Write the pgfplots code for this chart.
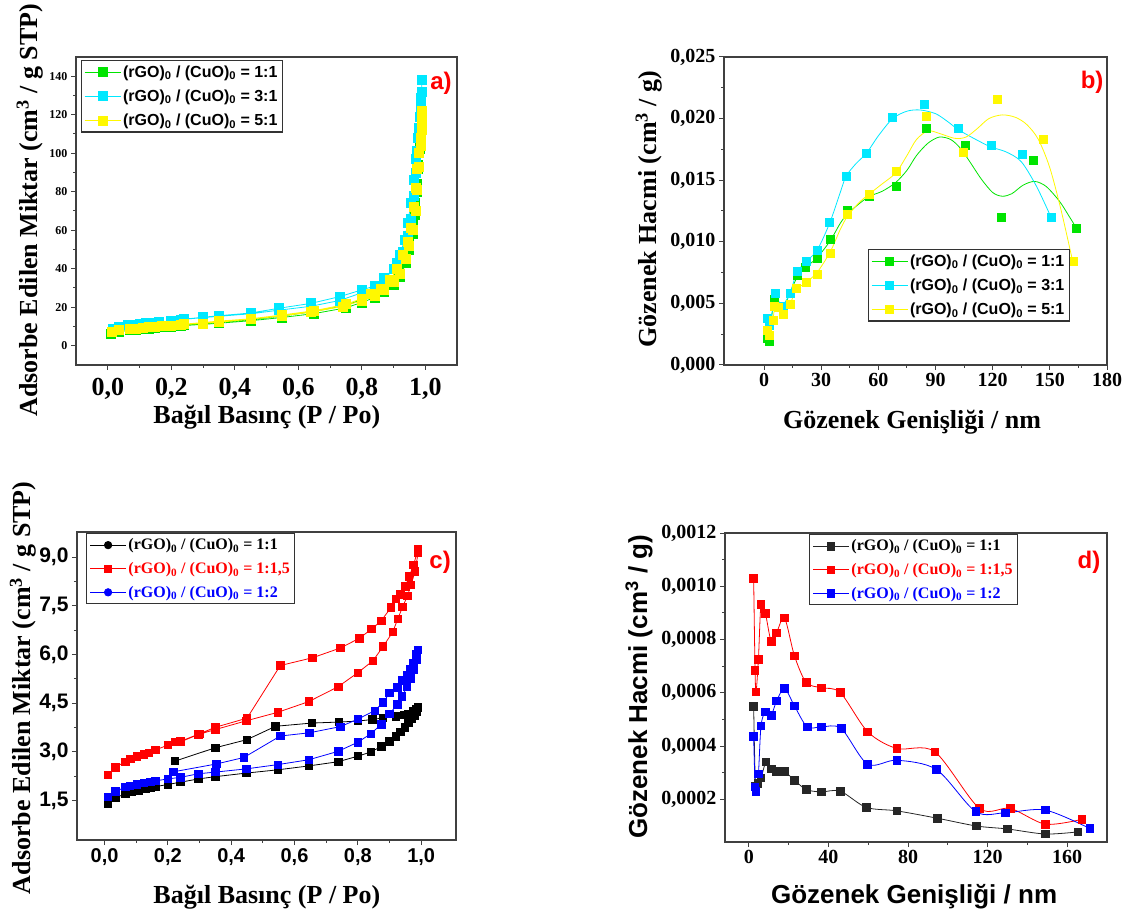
\documentclass[border=0pt]{standalone}
\usepackage{fontspec}
\setmainfont{Liberation Serif}
\newfontfamily\arial{Liberation Sans}
\usepackage{pgfplots}
\pgfplotsset{compat=1.18}
\definecolor{cgreen}{RGB}{0,228,0}
\definecolor{ccyan}{RGB}{0,232,255}
\definecolor{cyellow}{RGB}{255,248,0}
\definecolor{cred}{RGB}{255,0,0}
\definecolor{cblue}{RGB}{0,0,255}
\newcommand{\ent}[1]{(rGO)\textsubscript{0} / (CuO)\textsubscript{0} = #1}
\tikzset{
  serlab/.style={font=\fontsize{26}{30}\selectfont\bfseries},
  sanlab/.style={font=\fontsize{26}{30}\selectfont\arial\bfseries},
}
\pgfplotsset{
  panel/.style={
    scale only axis, anchor=south west,
    axis line style={black!75, line width=1.3pt},
    tick align=outside, xtick pos=left, ytick pos=left,
    major tick length=5pt, minor tick length=3pt,
    every tick/.style={black!75, line width=1pt},
    minor tick num=1,
    scaled ticks=false,
    /pgf/number format/assume math mode=true,
    legend cell align=left,
    legend image code/.code={\draw[mark repeat=2,mark phase=2,##1,sharp plot,line width=0.8pt] plot coordinates {(0pt,0pt) (18pt,0pt) (36pt,0pt)};},
  },
}
\begin{document}
\begin{tikzpicture}
\useasboundingbox (0pt,0pt) rectangle (1126pt,916pt);
% ---------------- a ----------------
\begin{axis}[panel, at={(76pt,551pt)}, width=381pt, height=308pt,
  xmin=-0.1, xmax=1.1, ymin=-10, ymax=150,
  xtick={0,0.2,0.4,0.6,0.8,1.0}, xticklabels={{0,0},{0,2},{0,4},{0,6},{0,8},{1,0}},
  ytick={0,20,40,60,80,100,120,140},
  x tick label style={font=\fontsize{26}{28}\selectfont\bfseries, yshift=-5pt},
  y tick label style={font=\fontsize{12}{14}\selectfont\bfseries},
  xlabel={Bağıl Basınç (P / Po)}, ylabel={Adsorbe Edilen Miktar (cm\textsuperscript{3} / g STP)},
  xlabel style={serlab, at={(axis description cs:0.501,-0.169)}, anchor=center},
  ylabel style={serlab, at={(axis description cs:-0.121,0.503)}, anchor=center},
  legend style={at={(0.0123,0.99)}, anchor=north west, draw=black!80, line width=1.2pt,
    font=\fontsize{16}{18}\selectfont\arial\bfseries, inner sep=3pt, row sep=7pt},
  mark size=4.5pt]
\addplot[cgreen, line width=0.8pt, mark=square*] coordinates {
(0.01,6.3) (0.035,7.3) (0.07,8.1) (0.09,8.4) (0.11,8.7) (0.13,9.0) (0.15,9.3) (0.17,9.6) (0.2,10.0) (0.23,10.4) (0.3,11.1) (0.35,11.7) (0.45,13.0) (0.55,14.7) (0.65,16.7) (0.75,19.7) (0.8,22.5) (0.84,25) (0.87,28) (0.9,31.5) (0.92,36) (0.94,43) (0.95,50) (0.96,58) (0.967,68) (0.973,80) (0.978,92) (0.983,103) (0.987,112) (0.99,121)
(0.988,117) (0.985,110) (0.982,102) (0.978,94) (0.974,84) (0.968,74) (0.96,63) (0.95,55) (0.935,47) (0.915,40) (0.89,34) (0.86,29.5) (0.83,27) (0.8,24) (0.75,21) (0.65,17.8) (0.55,15.5) (0.45,13.6) (0.35,12.3) (0.24,10.8)};
\addlegendentry{\ent{1:1}}
\addplot[ccyan, line width=0.8pt, mark=square*] coordinates {
(0.016,9.0) (0.035,9.8) (0.063,10.7) (0.08,11.0) (0.1,11.4) (0.12,11.8) (0.14,12.1) (0.16,12.4) (0.2,13.0) (0.23,13.6) (0.3,14.6) (0.35,15.3) (0.45,16.6) (0.54,18.5) (0.64,20.5) (0.73,23.5) (0.8,27.5) (0.84,30.5) (0.87,34) (0.9,40) (0.92,47) (0.935,55) (0.945,64) (0.955,74) (0.965,86) (0.972,97) (0.978,108) (0.983,119) (0.987,129) (0.99,138)
(0.988,132) (0.985,124) (0.98,113) (0.975,101) (0.97,90) (0.963,78) (0.955,66) (0.945,57) (0.93,49) (0.91,43) (0.9,40) (0.87,35) (0.84,31) (0.8,29) (0.73,25.5) (0.64,22) (0.54,19.5) (0.45,17) (0.35,15.6) (0.3,14.8) (0.24,13.8)};
\addlegendentry{\ent{3:1}}
\addplot[cyellow, line width=0.8pt, mark=square*] coordinates {
(0.012,7.0) (0.035,8.0) (0.07,8.7) (0.09,9.0) (0.11,9.3) (0.13,9.6) (0.15,9.9) (0.17,10.1) (0.2,10.5) (0.23,10.9) (0.3,11.6) (0.35,12.2) (0.45,13.8) (0.55,15.5) (0.64,17.5) (0.74,20.4) (0.8,23.4) (0.84,26) (0.87,29) (0.9,33) (0.92,37.5) (0.94,45) (0.95,52) (0.96,60) (0.97,70) (0.975,81) (0.98,93) (0.985,104) (0.988,112) (0.99,118) (0.991,122)
(0.988,116) (0.985,108) (0.98,100) (0.975,92) (0.97,82) (0.965,72) (0.955,61) (0.945,54) (0.93,47) (0.91,40) (0.89,34) (0.86,29.5) (0.83,27) (0.8,24.5) (0.75,21.5) (0.65,18.2) (0.55,16) (0.45,14) (0.35,12.8) (0.24,11.2)};
\addlegendentry{\ent{5:1}}
\node[font=\fontsize{24}{28}\selectfont\arial\bfseries, text=cred] at (axis description cs:0.958,0.916) {a)};
\end{axis}
% ---------------- b ----------------
\begin{axis}[panel, at={(724pt,551pt)}, width=383pt, height=308pt,
  xmin=-21, xmax=180, ymin=0, ymax=0.025,
  xtick={0,30,60,90,120,150,180},
  ytick={0,0.005,0.01,0.015,0.02,0.025}, yticklabels={{0,000},{0,005},{0,010},{0,015},{0,020},{0,025}},
  tick label style={font=\fontsize{20}{24}\selectfont\bfseries},
  xlabel={Gözenek Genişliği / nm}, ylabel={Gözenek Hacmi (cm\textsuperscript{3} / g)},
  xlabel style={serlab, at={(axis description cs:0.491,-0.185)}, anchor=center},
  ylabel style={serlab, at={(axis description cs:-0.196,0.506)}, anchor=center},
  legend style={at={(0.375,0.376)}, anchor=north west, draw=black!80, line width=1.2pt,
    font=\fontsize{16}{18}\selectfont\arial\bfseries, inner sep=3pt, row sep=7pt},
  mark size=4pt]
\addplot[cgreen, line width=0.8pt, smooth, tension=0.5, no marks, forget plot] coordinates {
(1.6,0.0022) (2.8,0.0025) (5.1,0.0050) (7,0.0047) (10,0.0046) (13.5,0.0058) (17.3,0.0071) (21.7,0.0079) (27.8,0.0087) (34.8,0.0101) (40,0.0115) (44,0.0123) (50,0.0131) (55.4,0.0137) (62,0.0141) (69,0.0148) (75,0.0158) (80,0.0170) (86,0.0180) (92,0.0185) (98,0.0183) (103,0.0176) (108,0.0165) (114,0.0151) (120,0.0140) (125,0.0137) (130,0.0139) (136,0.0146) (142,0.0149) (148,0.0145) (155,0.0133) (160,0.0121) (164,0.0111)};
\addplot[ccyan, line width=0.8pt, smooth, tension=0.5, no marks, forget plot] coordinates {
(1.6,0.0038) (2.5,0.0032) (5,0.0048) (6,0.0056) (8,0.0051) (10,0.0049) (13.5,0.0058) (17.3,0.0075) (22,0.0084) (27.8,0.0093) (34.4,0.0115) (40,0.0140) (43,0.0153) (48,0.0163) (53.8,0.0172) (60,0.0186) (67.5,0.0200) (75,0.0206) (82,0.0207) (90,0.0204) (96,0.0198) (102,0.0191) (110,0.0184) (119,0.0177) (127,0.0173) (135,0.0165) (143,0.0145) (150.6,0.0120)};
\addplot[cyellow, line width=0.8pt, smooth, tension=0.5, no marks, forget plot] coordinates {
(1.6,0.0028) (2.5,0.0024) (4.6,0.0036) (5.6,0.0046) (7.7,0.0047) (10.3,0.0043) (13.5,0.0049) (17,0.0061) (22,0.0067) (27.8,0.0075) (34.8,0.0092) (40,0.0110) (43.9,0.0121) (50,0.0132) (55.4,0.0139) (62,0.0147) (69.2,0.0156) (75,0.0170) (80,0.0183) (86,0.0190) (92,0.0188) (100,0.0184) (106,0.0185) (112,0.0192) (118,0.0200) (125,0.0203) (132,0.0201) (138,0.0195) (144,0.0183) (150,0.0160) (156,0.0125) (162,0.0084)};
\addplot[cgreen, only marks, mark=square*] coordinates {
(1.6,0.0022) (2.5,0.00197) (5.1,0.0053) (10,0.0046) (17.3,0.0073) (21.7,0.0079) (27.8,0.0087) (34.8,0.0102) (43.9,0.0126) (55.4,0.0137) (69.2,0.0145) (85.1,0.0192) (105.7,0.0178) (124.3,0.0120) (141,0.0166) (163.7,0.0111)};
\addlegendentry{\ent{1:1}}
\addplot[ccyan, only marks, mark=square*] coordinates {
(1.6,0.0038) (2.5,0.0032) (5.1,0.0048) (6,0.0058) (10,0.0048) (13.5,0.0058) (17.3,0.0076) (22,0.0084) (27.8,0.0093) (34.4,0.0116) (43,0.0153) (53.8,0.0172) (67.5,0.0201) (83.9,0.0212) (102,0.0192) (119,0.0178) (135.6,0.0171) (150.6,0.0120)};
\addlegendentry{\ent{3:1}}
\addplot[cyellow, only marks, mark=square*] coordinates {
(1.6,0.0028) (2.5,0.0024) (4.6,0.0036) (5.6,0.0048) (7.7,0.0047) (10.3,0.0041) (13.5,0.0049) (17,0.0062) (22,0.0067) (27.8,0.0074) (34.8,0.0091) (43.9,0.0122) (55.4,0.0139) (69.2,0.0157) (85.1,0.0202) (104.7,0.0173) (122.5,0.0216) (146.3,0.0183) (162,0.0084)};
\addlegendentry{\ent{5:1}}
\node[font=\fontsize{24}{28}\selectfont\arial\bfseries, text=cred] at (axis description cs:0.961,0.919) {b)};
\end{axis}
% ---------------- c ----------------
\begin{axis}[panel, at={(77pt,76pt)}, width=379pt, height=308pt,
  xmin=-0.087, xmax=1.11, ymin=0.29, ymax=9.77,
  xtick={0,0.2,0.4,0.6,0.8,1.0}, xticklabels={{0,0},{0,2},{0,4},{0,6},{0,8},{1,0}},
  ytick={1.5,3,4.5,6,7.5,9}, yticklabels={{1,5},{3,0},{4,5},{6,0},{7,5},{9,0}},
  x tick label style={font=\fontsize{20}{24}\selectfont\arial\bfseries},
  y tick label style={font=\fontsize{21}{24}\selectfont\arial\bfseries},
  xlabel={Bağıl Basınç (P / Po)}, ylabel={Adsorbe Edilen Miktar (cm\textsuperscript{3} / g STP)},
  xlabel style={serlab, at={(axis description cs:0.501,-0.185)}, anchor=center},
  ylabel style={serlab, at={(axis description cs:-0.142,0.494)}, anchor=center},
  legend style={at={(0.024,0.996)}, anchor=north west, draw=black!80, line width=1.2pt,
    font=\fontsize{16}{18}\selectfont\bfseries, inner sep=3pt, row sep=7pt},
  mark size=3.7pt]
\addplot[black, line width=0.8pt, mark=square*, legend image post style={mark=*}] coordinates {
(0.011,1.40) (0.034,1.60) (0.066,1.70) (0.087,1.77) (0.108,1.82) (0.13,1.87) (0.145,1.90) (0.16,1.93) (0.2,2.0) (0.24,2.07) (0.297,2.17) (0.35,2.24) (0.448,2.35) (0.547,2.45) (0.645,2.57) (0.738,2.70) (0.8,2.87) (0.841,3.0) (0.874,3.17) (0.9,3.33) (0.92,3.48) (0.935,3.62) (0.948,3.76) (0.96,3.90) (0.97,4.02) (0.978,4.13) (0.985,4.25) (0.99,4.37)
(0.985,4.32) (0.975,4.25) (0.96,4.17) (0.945,4.14) (0.92,4.1) (0.88,4.05) (0.846,4.0) (0.8,3.95) (0.74,3.92) (0.655,3.89) (0.54,3.79) (0.45,3.38) (0.35,3.13) (0.223,2.72)};
\addlegendentry{\textcolor{black}{\ent{1:1}}}
\addplot[cred, line width=0.8pt, mark=square*] coordinates {
(0.011,2.29) (0.034,2.53) (0.066,2.70) (0.082,2.78) (0.103,2.86) (0.124,2.93) (0.14,2.98) (0.16,3.06) (0.2,3.21) (0.223,3.31) (0.24,3.31) (0.297,3.54) (0.35,3.69) (0.448,3.96) (0.547,4.22) (0.645,4.55) (0.738,5.01) (0.8,5.44) (0.848,5.81) (0.88,6.25) (0.91,6.69) (0.926,7.09) (0.941,7.46) (0.957,7.81) (0.968,8.15) (0.981,8.56) (0.99,9.12)
(0.99,9.25) (0.976,8.75) (0.962,8.4) (0.95,8.1) (0.935,7.85) (0.92,7.72) (0.905,7.45) (0.874,7.04) (0.843,6.78) (0.805,6.5) (0.745,6.2) (0.657,5.9) (0.555,5.66) (0.45,4.04) (0.35,3.76) (0.3,3.56) (0.24,3.33)};
\addlegendentry{\textcolor{cred}{\ent{1:1,5}}}
\addplot[cblue, line width=0.8pt, mark=square*, legend image post style={mark=*}] coordinates {
(0.011,1.62) (0.034,1.78) (0.066,1.92) (0.08,1.95) (0.103,2.0) (0.124,2.04) (0.145,2.08) (0.16,2.11) (0.2,2.17) (0.24,2.22) (0.297,2.33) (0.35,2.38) (0.448,2.48) (0.547,2.61) (0.645,2.76) (0.738,3.02) (0.8,3.30) (0.841,3.56) (0.874,3.85) (0.9,4.18) (0.925,4.46) (0.94,4.71) (0.955,5.0) (0.966,5.26) (0.977,5.52) (0.985,5.83) (0.99,6.14)
(0.985,6.0) (0.975,5.75) (0.965,5.55) (0.955,5.36) (0.94,5.2) (0.925,4.99) (0.9,4.82) (0.88,4.52) (0.853,4.27) (0.8,4.01) (0.745,3.78) (0.647,3.59) (0.555,3.49) (0.44,2.83) (0.353,2.63) (0.218,2.39)};
\addlegendentry{\textcolor{cblue}{\ent{1:2}}}
\node[font=\fontsize{24}{28}\selectfont\arial\bfseries, text=cred] at (axis description cs:0.958,0.903) {c)};
\end{axis}
% ---------------- d ----------------
\begin{axis}[panel, at={(725pt,74pt)}, width=382pt, height=309pt,
  xmin=-12, xmax=180, ymin=0.00004, ymax=0.0012,
  xtick={0,40,80,120,160},
  ytick={0.0002,0.0004,0.0006,0.0008,0.001,0.0012}, yticklabels={{0,0002},{0,0004},{0,0006},{0,0008},{0,0010},{0,0012}},
  tick label style={font=\fontsize{20}{24}\selectfont\bfseries},
  xlabel={Gözenek Genişliği / nm}, ylabel={Gözenek Hacmi (cm\textsuperscript{3} / g)},
  xlabel style={sanlab, at={(axis description cs:0.495,-0.178)}, anchor=center},
  ylabel style={sanlab, at={(axis description cs:-0.225,0.502)}, anchor=center},
  legend style={at={(0.22,0.996)}, anchor=north west, draw=black!80, line width=1.2pt,
    font=\fontsize{16}{18}\selectfont\bfseries, inner sep=3pt, row sep=7pt},
  mark size=3.8pt]
\addplot[black!85, line width=0.8pt, mark=square*, smooth, tension=0.5] coordinates {
(2.4,0.00055) (3.3,0.00025) (4.5,0.00026) (6.1,0.00028) (8.6,0.00034) (11.2,0.000314) (13.9,0.000304) (17.9,0.000304) (22.9,0.000272) (28.8,0.000237) (36.3,0.000228) (45.9,0.000231) (59,0.00017) (74.3,0.000157) (94.9,0.000129) (114.4,0.0001) (129.9,0.000089) (149,0.00007) (165.4,0.000078)};
\addlegendentry{\textcolor{black}{\ent{1:1}}}
\addplot[cred, line width=0.8pt, mark=square*, smooth, tension=0.5] coordinates {
(2.4,0.00103) (3.1,0.000685) (3.6,0.000604) (4.8,0.000726) (6.1,0.000933) (8.3,0.000898) (11.2,0.000794) (13.9,0.000825) (17.9,0.000881) (22.9,0.000739) (28.8,0.000639) (36.3,0.000619) (45.9,0.000601) (59.7,0.000454) (74.3,0.000391) (93.4,0.000379) (115.9,0.000166) (131.4,0.000166) (149,0.000107) (167.3,0.000125)};
\addlegendentry{\textcolor{cred}{\ent{1:1,5}}}
\addplot[cblue, line width=0.8pt, mark=square*, smooth, tension=0.5] coordinates {
(2.4,0.000437) (3.1,0.000247) (3.6,0.000229) (4.8,0.000295) (6.1,0.000476) (8.3,0.000529) (11.2,0.000516) (13.9,0.000569) (17.9,0.000616) (22.9,0.000551) (29.3,0.000472) (36.3,0.000472) (46.4,0.000466) (59.7,0.000332) (74.3,0.000347) (94.3,0.000312) (114,0.000154) (129,0.00015) (149,0.00016) (171.3,0.000091)};
\addlegendentry{\textcolor{cblue}{\ent{1:2}}}
\node[font=\fontsize{24}{28}\selectfont\arial\bfseries, text=cred] at (axis description cs:0.953,0.906) {d)};
\end{axis}
\end{tikzpicture}
\end{document}
